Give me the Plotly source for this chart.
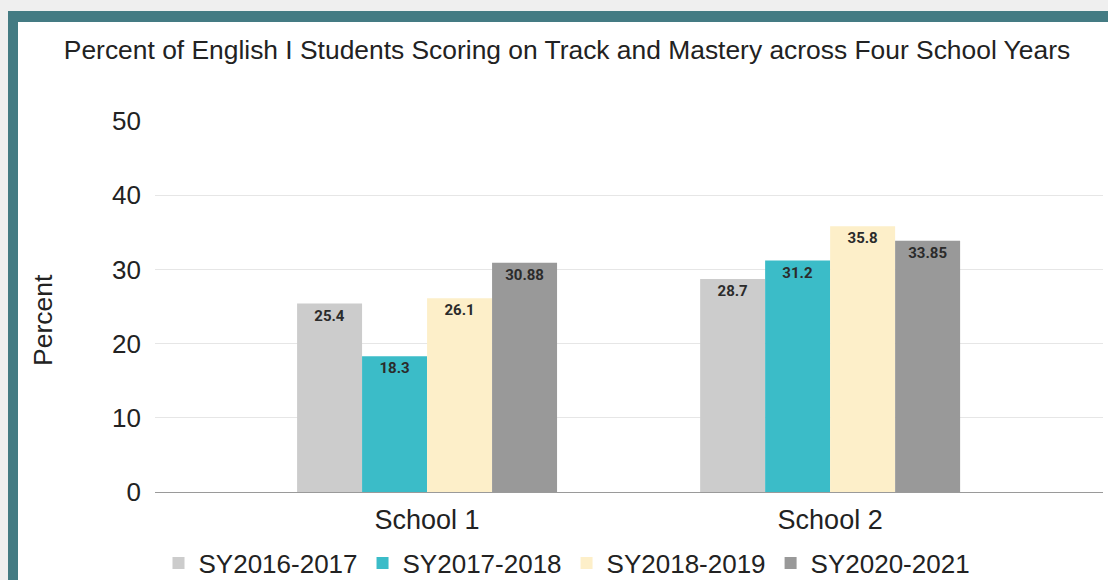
import plotly.graph_objects as go

categories = ["School 1", "School 2"]
series_names = ["SY2016-2017", "SY2017-2018", "SY2018-2019", "SY2020-2021"]
sy2016_2017 = [25.4, 28.7]
sy2017_2018 = [18.3, 31.2]
sy2018_2019 = [26.1, 35.8]
sy2020_2021 = [30.88, 33.85]
series_values = [sy2016_2017, sy2017_2018, sy2018_2019, sy2020_2021]
colors = ["#cccccc", "#3bbcc8", "#fdefc9", "#999999"]
y_ticks = [0, 10, 20, 30, 40, 50]

W, H = 1108, 580
L, R, T, B = 155, 5, 121, 88
pw, ph = W - L - R, H - T - B

def px_x(p):
    return (p - L) / pw

def px_y(p):
    return (H - B - p) / ph

fig = go.Figure()
for name, vals, col in zip(series_names, series_values, colors):
    fig.add_trace(go.Bar(
        x=categories, y=vals, name=name,
        marker=dict(color=col, line=dict(width=0)),
        text=[str(v) for v in vals],
        textposition="inside", insidetextanchor="end",
        textangle=0,
        textfont=dict(family="Roboto", size=15, color="#2b2b2b", weight="bold"),
        cliponaxis=False,
    ))

shapes = [
    dict(type="rect", xref="paper", yref="paper", layer="below",
         x0=px_x(8), x1=px_x(W + 5), y0=px_y(11), y1=px_y(H + 5),
         fillcolor="#447b83", line=dict(width=0)),
    dict(type="rect", xref="paper", yref="paper", layer="below",
         x0=px_x(18), x1=px_x(W + 5), y0=px_y(22), y1=px_y(H + 5),
         fillcolor="#ffffff", line=dict(width=0)),
]

fig.update_layout(
    width=W, height=H,
    margin=dict(l=L, r=R, t=T, b=B, autoexpand=False),
    paper_bgcolor="#efefef",
    plot_bgcolor="rgba(0,0,0,0)",
    barmode="group", bargap=0.355, bargroupgap=0,
    font=dict(family="Liberation Sans, Arial", color="#222222"),
    title=dict(
        text="Percent of English I Students Scoring on Track and Mastery across Four School Years",
        x=567 / W, xanchor="center", xref="container", y=1 - 50 / H, yanchor="middle",
        font=dict(size=26.4, color="#222222"),
    ),
    xaxis=dict(
        range=[-0.675, 1.677], showgrid=False, zeroline=False,
        showline=False, ticks="", tickfont=dict(size=27, color="#222222"),
        ticklabelstandoff=9,
    ),
    yaxis=dict(
        range=[0, 50], tickvals=y_ticks, showgrid=True, gridcolor="#e6e6e6",
        gridwidth=1, zeroline=True, zerolinecolor="#9a9a9a", zerolinewidth=1.3,
        tickfont=dict(size=26, color="#222222"), ticklabelstandoff=13,
        showline=False,
    ),
    annotations=[dict(
        text="Percent", textangle=-90, showarrow=False,
        xref="paper", yref="paper", x=px_x(43), y=px_y(320),
        xanchor="center", yanchor="middle",
        font=dict(size=26.5, color="#222222"),
    )],
    legend=dict(
        orientation="h", x=567 / W, xref="container", xanchor="center",
        y=1 - 563 / H, yref="container", yanchor="middle",
        font=dict(size=26, color="#222222"), bgcolor="rgba(0,0,0,0)",
        itemwidth=30, tracegroupgap=0,
    ),
    shapes=shapes,
    uniformtext=dict(minsize=8, mode="show"),
)

fig.write_html("out.html", config={"displayModeBar": False},
               post_script="document.body.style.margin='0';")
